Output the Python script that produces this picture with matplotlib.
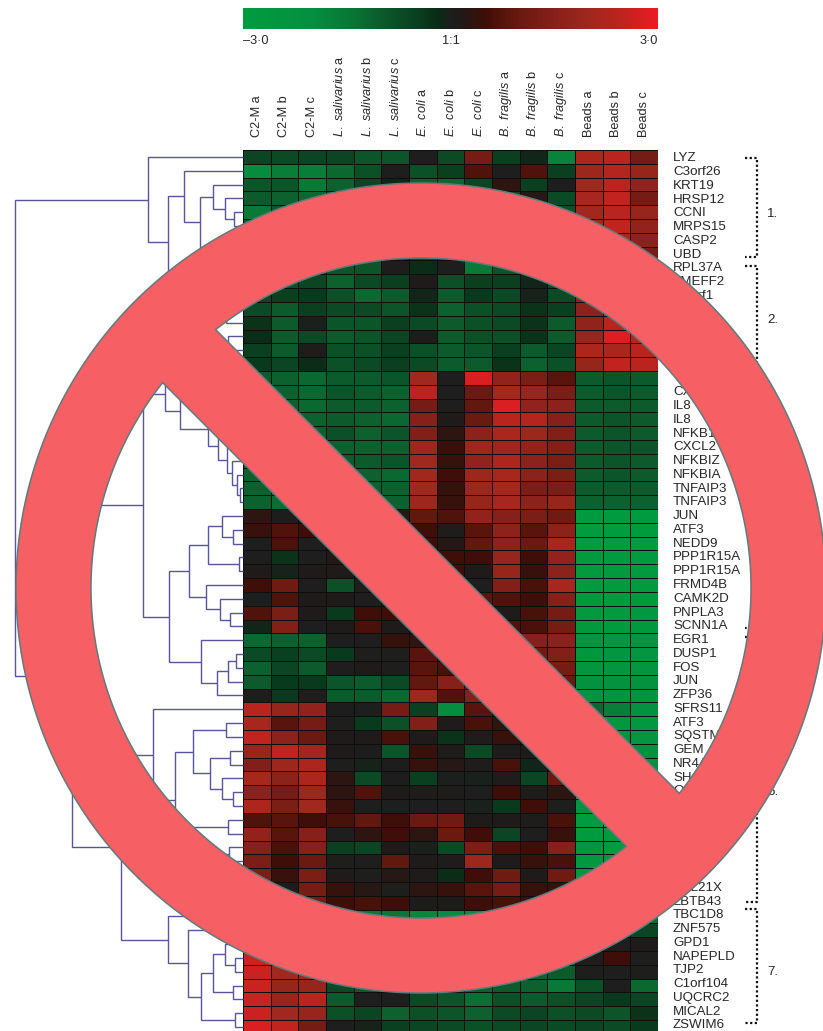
import numpy as np
import matplotlib
matplotlib.use("Agg")
import matplotlib.pyplot as plt
from matplotlib.colors import LinearSegmentedColormap
from matplotlib.path import Path
from matplotlib.patches import PathPatch

plt.rcParams['font.family'] = ['Liberation Sans', 'DejaVu Sans']
plt.rcParams['mathtext.fontset'] = 'custom'
plt.rcParams['mathtext.it'] = 'Liberation Sans:italic'
plt.rcParams['mathtext.rm'] = 'Liberation Sans'

col_labels = ["C2-M a", "C2-M b", "C2-M c",
              r"$\mathit{L.\ salivarius}$ a", r"$\mathit{L.\ salivarius}$ b", r"$\mathit{L.\ salivarius}$ c",
              r"$\mathit{E.\ coli}$ a", r"$\mathit{E.\ coli}$ b", r"$\mathit{E.\ coli}$ c",
              r"$\mathit{B.\ fragilis}$ a", r"$\mathit{B.\ fragilis}$ b", r"$\mathit{B.\ fragilis}$ c",
              "Beads a", "Beads b", "Beads c"]

row_labels = ["LYZ", "C3orf26", "KRT19", "HRSP12", "CCNI", "MRPS15", "CASP2", "UBD",
              "RPL37A", "TMEFF2", "C1orf1", "", "", "", "", "",
              "", "CXCL1", "IL8", "IL8", "NFKB1", "CXCL2", "NFKBIZ", "NFKBIA", "TNFAIP3", "TNFAIP3",
              "JUN", "ATF3", "NEDD9", "PPP1R15A", "PPP1R15A", "FRMD4B", "CAMK2D", "PNPLA3", "SCNN1A",
              "EGR1", "DUSP1", "FOS", "JUN", "ZFP36",
              "SFRS11", "ATF3", "SQSTM1", "GEM", "NR4A1", "SHOC2", "OSGIN1", "", "", "", "", "", "",
              "BCL21X", "ZBTB43",
              "TBC1D8", "ZNF575", "GPD1", "NAPEPLD", "TJP2", "C1orf104", "UQCRC2", "MICAL2", "ZSWIM6"]

log_ratio = [
 [-0.6,-0.7,-0.6,-0.6,-0.9,-0.9, 0.0,-0.7, 1.2,-0.5,-0.1,-1.7, 2.2, 2.4, 1.2],
 [-1.9,-1.6,-1.6,-1.2,-0.8, 0.0,-0.8,-0.5, 0.7, 0.0, 0.7,-0.5, 1.9, 2.3, 1.8],
 [-0.9,-0.9,-1.5,-1.1,-0.6,-0.1,-1.1,-1.2,-0.6, 0.3,-0.5, 0.0, 2.0, 2.4, 1.7],
 [-1.0,-1.1,-1.2,-1.0,-0.9,-0.8,-1.0,-0.9,-0.8,-0.6, 0.2,-0.7, 2.1, 2.5, 1.2],
 [-1.5,-1.0,-1.0,-0.8,-0.8,-1.0,-0.8,-0.8,-0.8,-0.7,-0.7,-0.8, 2.0, 2.4, 1.8],
 [-1.0,-0.8,-0.9,-0.8,-0.8,-0.8,-0.8,-0.9,-0.8,-0.8,-0.7,-0.7, 2.0, 2.5, 1.7],
 [-0.9,-0.8,-0.8,-0.9,-0.8,-0.7,-0.7,-0.8,-0.7,-0.7,-0.8,-0.7, 2.0, 2.2, 1.6],
 [-0.8,-0.9,-0.8,-0.7,-0.8,-0.7,-0.7,-0.7,-0.8,-0.7,-0.7,-0.8, 1.9, 2.2, 1.2],
 [-0.8,-0.8,-0.7,-0.9,-0.9, 0.05,-0.2, 0.0,-1.5,-0.9,-0.8,-0.8, 1.9, 2.2, 1.6],
 [-0.7,-0.8,-0.6,-1.1,-0.7,-0.5, 0.1,-0.8,-0.5,-0.5,-0.1,-0.7, 1.8, 2.2, 1.6],
 [-0.6,-0.5,-0.4,-0.8,-1.2,-1.0,-0.1,-1.0,-0.4,-0.7,-0.05,-0.7, 1.7, 2.3, 1.7],
 [-0.7,-1.0,-0.5,-0.7,-0.7,-0.9,-0.3,-1.1,-0.8,-0.7,-0.3,-0.5, 1.6, 2.3, 1.9],
 [-0.3,-1.0,-0.03,-0.9,-0.9,-0.5,-0.7,-1.0,-0.8,-0.7,-0.3,-1.0, 1.7, 2.4, 2.2],
 [-0.2,-1.0,-0.7,-1.0,-0.9,-0.6, 0.05,-1.0,-0.8,-0.8,-0.3,-1.0, 1.8, 2.8, 2.3],
 [-0.5,-1.0, 0.05,-0.8,-0.8,-0.5,-0.8,-1.0,-0.9,-0.5,-1.0,-0.6, 2.2, 2.1, 2.4],
 [-0.4,-0.6,-0.2,-0.8,-0.7,-0.5,-0.7,-1.0,-1.0,-0.3,-1.1,-0.8, 1.8, 2.5, 2.4],
 [-1.0,-1.1,-1.2,-1.0,-1.0,-0.9, 2.0, 0.0, 2.8, 1.7, 1.3, 0.8,-1.0,-0.9,-1.0],
 [-1.0,-1.1,-1.2,-0.9,-1.0,-1.1, 2.4, 0.0, 1.0, 2.1, 1.8, 1.3,-1.0,-0.9,-1.0],
 [-1.0,-1.1,-1.2,-1.0,-1.0,-1.1, 1.2, 0.0, 0.9, 2.8, 1.7, 1.6,-1.0,-1.0,-1.0],
 [-1.0,-1.1,-1.1,-1.0,-1.1,-1.2, 1.5, 0.1, 1.0, 2.4, 2.3, 1.5,-1.0,-0.9,-1.0],
 [-1.0,-1.0,-1.1,-0.8,-1.1,-0.9, 1.4, 0.3, 1.6, 2.2, 1.9, 1.4,-1.0,-0.9,-1.0],
 [-1.0,-1.1,-1.0,-1.1,-1.1,-1.1, 1.9, 0.4, 1.9, 1.9, 1.7, 1.4,-1.0,-0.9,-0.9],
 [-1.0,-1.1,-1.1,-1.0,-1.0,-0.9, 2.0, 0.4, 1.7, 2.2, 1.6, 1.3,-1.0,-0.9,-1.0],
 [-1.1,-1.1,-1.1,-1.1,-1.1,-1.2, 2.0, 0.5, 1.9, 2.1, 1.6, 1.3,-1.0,-0.9,-1.0],
 [-1.1,-1.1,-1.1,-1.1,-1.1,-1.1, 2.0, 0.4, 1.9, 2.1, 1.3, 1.3,-1.0,-1.0,-1.0],
 [-1.1,-1.3,-1.1,-1.1,-1.1,-1.1, 1.9, 0.4, 1.8, 2.1, 1.6, 1.8,-1.1,-1.1,-1.1],
 [ 0.3, 0.03, 0.1, 0.1, 0.2, 0.2, 0.9, 0.7, 1.7, 1.5, 1.3, 1.1,-2.9,-2.9,-2.9],
 [ 0.4, 0.7, 0.5, 0.3, 0.2, 0.2, 0.5, 0.05, 0.8, 1.6, 0.8, 1.6,-3.0,-3.0,-2.9],
 [ 0.0, 0.6, 0.0, 0.1, 0.1, 0.2, 0.5, 0.2, 0.9, 1.6, 1.0, 2.1,-2.9,-2.9,-2.9],
 [ 0.0,-0.3, 0.0, 0.2, 0.1, 0.1, 0.4, 0.5, 0.5, 1.8, 0.5, 1.7,-2.8,-2.8,-2.8],
 [ 0.1,-0.05, 0.1, 0.1, 0.1, 0.1, 0.3, 0.5, 0.1, 1.8, 0.4, 1.6,-2.8,-2.8,-2.8],
 [ 0.5, 1.1, 0.0,-0.8, 0.0, 0.1, 0.4, 0.4,-0.0, 1.4, 0.6, 2.1,-2.8,-2.8,-2.8],
 [-0.02,0.7, 0.1, 0.1, 0.0, 0.2, 0.3, 0.4, 0.8, 0.7, 0.5, 1.5,-2.7,-2.8,-2.7],
 [ 0.7, 1.3, 0.1,-0.4, 0.5, 0.5, 0.3, 0.3, 0.4, 0.1, 0.6, 1.2,-2.8,-2.8,-2.7],
 [-0.1, 1.4, 0.0, 0.1, 0.6, 0.1, 0.3, 0.3, 0.4, 0.7, 0.6, 1.2,-2.7,-2.8,-2.7],
 [-1.2,-1.1,-1.1, 0.0, 0.0, 0.4, 0.3, 0.2, 0.6, 0.9, 1.5, 1.6,-2.4,-2.5,-2.4],
 [-0.7,-0.5,-0.7,-0.4, 0.02,0.02,0.8, 0.2, 0.7, 0.9, 1.1, 1.4,-2.5,-2.4,-2.4],
 [-1.1,-0.6,-1.0, 0.0, 0.1, 0.0, 0.8, 0.6, 0.9, 0.9, 1.0, 1.2,-2.4,-2.4,-2.4],
 [-1.0,-0.4,-0.4,-0.9,-1.0,-0.7, 0.9, 1.5, 1.0, 1.0, 1.0, 1.0,-2.2,-2.2,-2.2],
 [ 0.05,-0.4,0.0,-1.0,-1.0,-1.2, 1.9, 0.7, 1.5, 0.8, 0.8, 0.8,-2.3,-2.3,-2.3],
 [ 2.4, 1.8, 1.7, 0.03,-0.02,1.2,-0.5,-1.9, 0.8, 0.5, 0.3, 0.3,-1.2,-1.6,-2.2],
 [ 2.1, 0.8, 1.2, 0.0,-0.4,-0.8, 1.4, 0.1, 0.6, 0.3, 0.3, 0.3,-2.4,-2.5,-2.7],
 [ 2.5, 1.6, 1.0, 0.1, 0.1, 0.6, 0.1,-0.3, 0.05,0.4, 0.4, 0.3,-2.2,-2.3,-2.4],
 [ 1.8, 2.5, 2.0, 0.1, 0.03,-0.9,0.4, 0.05,-0.7,0.05,0.1,-0.6,-2.0,-2.0,-2.0],
 [ 1.4, 1.9, 2.2, 0.0,-0.05,0.03,0.4, 0.2, 0.05,0.6,-0.1, 0.3,-2.2,-2.2,-2.2],
 [ 2.1, 1.6, 2.2, 0.3,-0.7, 0.03,-0.5,-0.02,-0.03,0.05,-0.6,1.0,-2.2,-2.2,-2.2],
 [ 1.6, 1.2, 1.9, 0.3, 0.7, 0.1, 0.05,0.05,0.0, 0.5, 0.05,0.3,-2.3,-2.3,-2.3],
 [ 2.2, 1.3, 2.0, 0.4, 0.0, 0.0, 0.0, 0.0,-0.03,-0.4,0.5, 0.02,-2.3,-2.4,-2.4],
 [ 0.7, 0.8, 0.5, 0.6, 0.9, 0.5, 1.0, 1.1, 0.1, 0.1, 0.05,0.6,-3.0,-2.9,-2.8],
 [ 1.7, 0.8, 1.5, 0.0, 0.3, 0.5, 0.3, 1.0, 0.5,-0.6, 0.0, 0.4,-2.9,-2.9,-2.8],
 [ 1.5, 0.6, 1.5,-0.5,-0.6, 0.1,-0.03,-0.7,1.3, 0.6, 0.5, 1.5,-2.4,-2.8,-2.6],
 [ 1.3, 0.5, 1.0, 0.02,0.01,0.9, 0.1, 0.05,1.9, 0.1, 0.4, 0.6,-2.7,-2.6,-2.6],
 [ 1.3, 0.4, 1.3, 0.1, 0.02,0.2, 0.1,-0.2, 0.5, 1.1, 0.1, 1.1,-2.7,-2.6,-2.6],
 [ 1.3, 0.1, 1.2, 0.4, 0.2, 0.02,0.3, 0.4, 0.8, 1.2, 0.4, 0.4,-2.6,-2.6,-2.6],
 [ 1.2, 0.8, 1.2, 0.5, 0.6, 0.5, 0.1, 0.1, 0.5, 0.6, 0.4, 0.5,-2.5,-2.5,-2.5],
 [ 2.4, 2.0, 1.8,-1.0,-1.4,-1.4,-1.8,-1.9,-1.9,-1.5,-1.5,-1.4,-1.4,-1.3,-1.2],
 [ 2.5, 2.1, 1.9,-1.0,-1.2,-1.3,-1.4,-1.4,-1.4,-1.3,-1.3,-1.2,-0.9,-0.8,-0.6],
 [ 2.4, 2.0, 1.8,-1.0,-1.1,-1.3,-1.3,-1.3,-1.3,-1.2,-1.2,-1.0, 0.0, 0.0, 0.1],
 [ 2.6, 2.3, 1.9,-1.0,-1.0,-1.2,-1.2,-1.2,-1.2,-1.1,-1.1,-1.0, 0.05,0.5, 0.0],
 [ 2.6, 2.0, 2.0,-0.9,-1.0,-1.2,-1.1,-1.1,-1.1,-1.1,-1.1,-1.0, 0.0, 0.0, 0.02],
 [ 2.6, 1.8, 1.8,-0.7,-1.0,-1.2,-1.1,-1.1,-1.1,-1.0,-1.1,-1.5,-0.8, 0.0,-1.2],
 [ 2.6, 1.8, 2.4,-1.0, 0.0, 0.0,-0.7,-0.9,-1.3,-0.8,-1.0,-0.8,-0.6,-0.4,-0.6],
 [ 2.6, 2.0, 1.8,-0.8,-0.6,-1.1,-0.8,-0.9,-1.1,-0.7,-0.6,-0.8,-0.7,-0.9,-0.3],
 [ 2.8, 2.5, 1.2, 0.0,-0.05,-0.5,-0.6,-0.7,-0.8,-0.7,-0.6,-0.7,-0.6,-0.7,-0.4],
]

# colour scale: (log ratio, colour)
scale_values = [-3, -2, -1.4, -1, -0.5, -0.15, 0, 0.15, 0.5, 1, 1.5, 2, 2.5, 3]
scale_colors = ["#009c3f", "#059040", "#0a7535", "#0d5a2c", "#0a4020", "#0b2a16", "#1e1e1e",
                "#201a18", "#3f0e08", "#6a1a10", "#86201a", "#a0281e", "#c0231f", "#ec1c24"]

# dendrogram: (merge position, upper child, lower child); ints are rows
top_tree = (148, 0, (168,
    (184, 1, (200, (213, 2, (225, 3, (234, 4, 5))), (232, 6, 7))),
    (178, 8, (190, (225, 9, 10), (205, (226, 11, 12), (228, 13, (235, 14, 15)))))))
nfkb_tree = (165, 16, (180, 17, (208, (232, 18, 19),
    (218, 20, (227, 21, (232, 22, (237, 23, (240, 24, 25))))))))
jun_tree = (169,
    (189, (208, (222, 26, (233, 27, 28)), (239, 29, 30)),
          (206, 31, (220, 32, (230, 33, 34)))),
    (201, 35, (217, (228, (236, 36, 37), 38), 39)))
stress_tree = (153, 40, (175,
    (193, (226, 41, 42), (210, (230, 43, 44), (222, 45, (233, 46, 47)))),
    (194, (228, 48, 49), (215, (229, 50, 51), (225, 52, (235, 53, 54))))))
zn_tree = (168, 55, (188, 56, (201,
    (213, (225, 57, (235, 58, 59)), (233, 60, 61)), (235, 62, 63))))
dendro = (15.5, top_tree, (72, (143, nfkb_tree, jun_tree), (121, stress_tree, zn_tree)))

bracket_tops = [0.58, 8.4, 16.4, 26.4, 35.27, 40.4, 54.96]
bracket_bottoms = [7.75, 15.7, 25.7, 34.6, 39.7, 54.45, 63.2]
bracket_names = ["1.", "2.", "3.", "4.", "5.", "6.", "7."]
bracket_name_rows = [4.6, 12.3, 20.5, 30.5, 37.5, 46.5, 59.5]

W, H = 823, 1031
TOP, ROW_H = 150.0, 13.81
LEFT, RIGHT = 243, 658
TEXT = "#262626"
FS = 9.6

cmap = LinearSegmentedColormap.from_list(
    "gbr", [((v + 3) / 6, c) for v, c in zip(scale_values, scale_colors)], N=512)

fig = plt.figure(figsize=(W / 100, H / 100), dpi=100, facecolor="white")
def px_axes(x0, y0, x1, y1, **kw):
    return fig.add_axes([x0 / W, 1 - y1 / H, (x1 - x0) / W, (y1 - y0) / H], **kw)

# heat map
ax = px_axes(LEFT, TOP, RIGHT, H)
data = np.array(log_ratio)
ax.pcolormesh(np.arange(data.shape[1] + 1), np.arange(data.shape[0] + 1), data, cmap=cmap,
              vmin=-3, vmax=3, edgecolors="#0e0e0e", linewidth=0.55)
ax.set_xlim(0, data.shape[1])
ax.set_ylim((H - TOP) / ROW_H, 0)
ax.xaxis.tick_top()
ax.yaxis.tick_right()
ax.set_xticks(np.arange(data.shape[1]) + 0.5, col_labels, rotation=90, fontsize=FS - 0.4,
              color=TEXT, ha="center", va="bottom")
# the gene names run on a slightly tighter pitch than the cells
ax.set_yticks((np.arange(data.shape[0]) + 0.5) * 0.9965, row_labels, fontsize=FS, color=TEXT)
ax.tick_params(axis="x", length=0, pad=9.4)
ax.tick_params(axis="y", length=0, pad=10.8)
for s in ax.spines.values():
    s.set_visible(False)

# colour bar
cax = px_axes(LEFT, 8, RIGHT, 29)
grad = np.linspace(-3, 3, 415).reshape(1, -1)
cax.imshow(grad, aspect="auto", cmap=cmap, vmin=-3, vmax=3, extent=[-3, 3, 0, 1])
cax.set_yticks([])
cax.set_xticks([-3, 0, 3], ["\u20133\u00b70", "1:1", "3\u00b70"], fontsize=FS - 0.4, color=TEXT)
labs = cax.get_xticklabels()
labs[0].set_ha("left"); labs[2].set_ha("right")
cax.tick_params(axis="x", length=0, pad=4)
for s in cax.spines.values():
    s.set_visible(False)

# annotation layer: x in pixels, y in rows
an = px_axes(0, 0, W, H, facecolor="none", zorder=3)
an.set_xlim(0, W)
an.set_ylim((H - TOP) / ROW_H, -TOP / ROW_H)
an.axis("off")

def draw(node, color="#56569a"):
    if isinstance(node, int):
        return LEFT, node + 0.5
    x, a, b = node
    xa, ya = draw(a, color)
    xb, yb = draw(b, color)
    an.plot([xa, x, x, xb], [ya, ya, yb, yb], color=color, lw=1.0,
            solid_joinstyle="miter", solid_capstyle="butt")
    return x, (ya + yb) / 2
draw(dendro)

for t, b, name, r in zip(bracket_tops, bracket_bottoms, bracket_names, bracket_name_rows):
    an.plot([745.5, 757, 757, 745.5], [t, t, b, b], color="#111111", lw=1.6,
            ls=(0, (1.0, 1.1)), dash_capstyle="butt")
    an.text(767, r, name, fontsize=FS, color=TEXT, va="center", ha="left")

# prohibition sign on top of everything
ov = px_axes(0, 0, W, H, facecolor="none", zorder=5)
ov.set_xlim(0, W); ov.set_ylim(H, 0); ov.axis("off")
cx, cy, R, r_in, half = 421.0, 588.0, 405.0, 330.0, 37.5
alpha = np.arcsin(half / r_in)
def loop(radius, t0, t1, n=400):
    t = np.linspace(t0, t1, n)
    pts = np.column_stack([cx + radius * np.cos(t), cy + radius * np.sin(t)])
    return pts
q = np.pi / 4
outer = loop(R, 0, 2 * np.pi)
hole1 = loop(r_in, q - alpha, q + np.pi + alpha - 2 * np.pi)     # upper right
hole2 = loop(r_in, q + np.pi - alpha, q + alpha)                 # lower left
verts, codes = [], []
for pts in (outer, hole1, hole2):
    verts += list(pts) + [pts[0]]
    codes += [Path.MOVETO] + [Path.LINETO] * (len(pts) - 1) + [Path.CLOSEPOLY]
ov.add_patch(PathPatch(Path(np.array(verts), codes), facecolor="#F65F63",
                       edgecolor="#5f7b7d", lw=1.1, joinstyle="miter"))

fig.savefig("out.png", dpi=100, facecolor="white")
